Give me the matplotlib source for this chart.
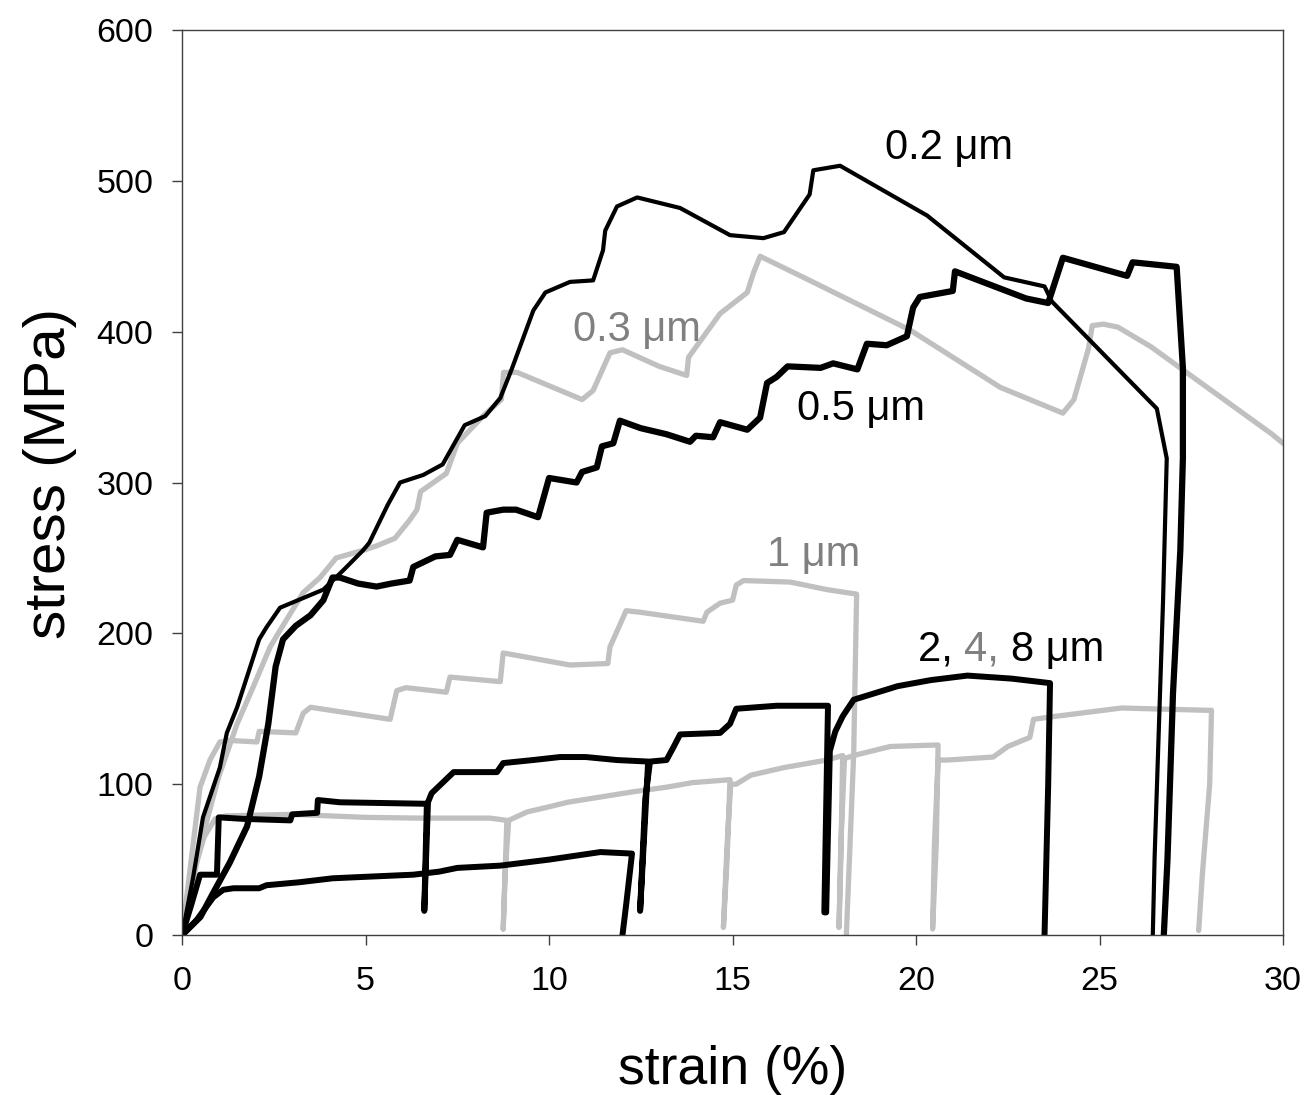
import matplotlib
matplotlib.use("Agg")
import matplotlib.pyplot as plt

plt.rcParams['font.family'] = ['Liberation Sans', 'DejaVu Sans']

# ---- data (strain %, stress MPa) ----
s02_x = [0, 0.3, 0.57, 1.03, 1.22, 1.5, 2.1, 2.3, 2.67, 3.85, 4.4, 4.93, 5.1, 5.6, 5.94, 6.57, 7.1, 7.7,
         8.26, 8.67, 8.98, 9.57, 9.9, 10.57, 11.2, 11.47, 11.53, 11.85, 12.4, 13.57, 14.93, 15.84, 16.4,
         17.1, 17.2, 17.93, 20.3, 22.4, 23.5, 23.7, 26.56, 26.83, 26.73, 26.5, 26.45]
s02_y = [0, 38, 78, 111, 134, 151, 196, 204, 217, 229, 242, 255, 260, 285, 300, 305, 312, 338,
         344, 356, 375, 414, 426, 433, 434, 454, 467, 483, 489, 482, 464, 462, 466,
         491, 507, 510, 477, 436, 430, 420, 349, 316, 222, 52, 0]

s03_x = [0, 0.5, 1.0, 1.5, 1.93, 2.4, 2.67, 3.3, 3.76, 4.2, 4.93, 5.3, 5.8, 6.2, 6.4, 6.5, 7.2, 7.5,
         8.2, 8.7, 8.76, 9.13, 10.9, 11.2, 11.66, 12.0, 13.0, 13.75, 13.8, 14.66, 15.4, 15.57, 15.75,
         17.1, 19.84, 22.3, 24.0, 24.3, 24.7, 24.8, 25.1, 25.5, 26.4, 29.7, 30.0]
s03_y = [0, 60, 105, 140, 164, 191, 202, 227, 237, 250, 255, 258, 263, 275, 282, 294, 306, 326,
         344, 355, 373, 373, 355, 361, 386, 388, 377, 371, 383, 412, 426, 439, 450,
         434, 401, 363, 346, 355, 389, 404, 405, 403, 390, 332, 326]

s05_x = [0, 0.5, 0.85, 1.3, 1.77, 2.1, 2.35, 2.55, 2.75, 3.1, 3.5, 3.85, 4.1, 4.3, 4.8, 5.3, 5.7, 6.2,
         6.3, 6.9, 7.3, 7.5, 8.2, 8.3, 8.75, 9.1, 9.7, 9.85, 10.0, 10.75, 10.9, 11.3, 11.44, 11.75,
         11.93, 12.5, 13.2, 13.84, 14.0, 14.47, 14.66, 15.4, 15.75, 15.94, 16.2, 16.5, 17.4, 17.74,
         18.4, 18.66, 19.2, 19.75, 19.92, 20.1, 21.0, 21.06, 23.0, 23.6, 24.0, 25.75, 25.9, 27.1,
         27.27, 27.27, 27.2, 27.0, 26.85, 26.75]
s05_y = [0, 12, 28, 48, 72, 105, 140, 178, 196, 205, 212, 222, 237, 237, 233, 231, 233, 235,
         244, 251, 252, 262, 257, 280, 282, 282, 277, 290, 303, 300, 307, 310, 324, 326,
         341, 336, 332, 327, 331, 330, 340, 335, 343, 366, 370, 377, 376, 379,
         375, 392, 391, 397, 416, 423, 427, 440, 422, 419, 449, 437, 446, 443,
         376, 316, 255, 160, 50, 0]

s1_x = [0, 0.25, 0.49, 0.76, 1.03, 1.3, 2.04, 2.1, 3.1, 3.3, 3.5, 5.67, 5.85, 6.1, 7.2, 7.3, 8.67,
        8.75, 10.57, 11.6, 11.66, 12.1, 12.48, 14.2, 14.3, 14.66, 15.0, 15.1, 15.3, 16.57, 17.57,
        18.38, 18.3, 18.1]
s1_y = [0, 50, 98, 116, 128, 129, 128, 135, 134, 147, 151, 143, 162, 164, 161, 171, 168,
        187, 179, 180, 191, 215, 214, 208, 214, 220, 222, 232, 235, 234, 229,
        226, 120, 0]

# 2 um (black, with unloading)
s2_x = [0, 0.25, 0.49, 0.95, 1.0, 1.67, 2.95, 3.0, 3.68, 3.7, 4.3, 6.67, 6.6, 6.7, 6.8, 7.1, 7.4,
        8.58, 8.75, 9.56, 10.3, 11.0, 11.85, 12.7, 12.48, 12.62, 12.75, 13.2, 13.4, 13.57, 14.66,
        14.93, 15.1, 16.2, 17.6, 17.5, 17.55, 17.65, 17.8, 18.0, 18.3, 19.5, 20.4, 21.4, 22.6,
        23.65, 23.6, 23.5]
s2_y = [0, 20, 40, 40, 78, 77, 76, 80, 81, 89.5, 88, 87, 16, 88, 94, 101, 108,
        108, 114, 116, 118, 118, 116, 115, 16, 90, 115, 116, 125, 133, 134,
        140, 150, 152, 152, 15, 15, 122, 135, 145, 156, 165, 169, 172, 170,
        167, 100, 0]

# 4 um (gray, with unloading)
s4_x = [0, 0.3, 0.6, 0.9, 1.2, 3.0, 5.0, 6.5, 8.4, 8.85, 8.8, 8.75, 8.8, 8.9, 9.4, 10.0, 10.5,
        11.4, 12.3, 13.2, 13.9, 14.93, 14.85, 14.75, 14.85, 14.95, 15.1, 15.5, 16.4, 17.57, 18.0,
        17.95, 17.9, 17.95, 18.05, 18.3, 19.3, 20.6, 20.55, 20.45, 20.5, 20.6, 20.85, 22.1, 22.5,
        23.1, 23.2, 23.8, 25.6, 27.9, 28.05, 28.0, 27.8, 27.7]
s4_y = [0, 40, 65, 77, 79, 80, 78, 77.5, 77.5, 76, 40, 4, 40, 76, 81.6, 85, 88,
        91.5, 95, 98, 101, 103, 50, 5, 60, 100, 100, 106, 111, 116, 119,
        50, 5, 60, 117, 119, 125, 126, 60, 4, 60, 116, 116, 118, 125,
        131, 143, 145, 150.5, 149, 149, 100, 40, 3]

# 8 um (black)
s8_x = [0, 0.4, 0.85, 1.12, 1.4, 2.1, 2.3, 3.2, 4.1, 5.0, 6.3, 7.0, 7.5, 8.67, 10.0, 11.4, 12.26,
        12.1, 12.0]
s8_y = [0, 10, 25, 30, 31, 31, 33, 35, 37.6, 38.6, 40, 42, 44.5, 46, 50, 55, 54,
        20, 0]

BLACK = '#000000'
GRAY = '#C0C0C0'
TXTGRAY = '#808080'

fig = plt.figure(figsize=(13.07, 10.95), dpi=100)
ax = fig.add_axes([0.1393, 0.1461, 0.9817 - 0.1393, 0.9726 - 0.1461])

kw = dict(solid_joinstyle='round', solid_capstyle='round')
ax.plot(s1_x, s1_y, color=GRAY, lw=3.8, **kw)
ax.plot(s4_x, s4_y, color=GRAY, lw=3.8, **kw)
ax.plot(s03_x, s03_y, color=GRAY, lw=3.8, **kw)
ax.plot(s8_x, s8_y, color=BLACK, lw=4.3, **kw)
ax.plot(s2_x, s2_y, color=BLACK, lw=4.3, **kw)
ax.plot(s05_x, s05_y, color=BLACK, lw=4.5, **kw)
ax.plot(s02_x, s02_y, color=BLACK, lw=3.0, **kw)

ax.set_xlim(0, 30)
ax.set_ylim(0, 600)
ax.set_xticks(range(0, 31, 5))
ax.set_yticks(range(0, 601, 100))
ax.tick_params(axis='both', direction='out', length=7.5, width=1, labelsize=24.5,
               color='#404040')
ax.tick_params(axis='x', pad=15)
ax.tick_params(axis='y', pad=13)
ax.tick_params(top=False, right=False)
for sp in ax.spines.values():
    sp.set_color('#404040')
    sp.set_linewidth(1)

ax.set_xlabel('strain (%)', fontsize=38.5)
ax.xaxis.label.set_va('center')
ax.xaxis.set_label_coords(0.5, -0.149)
ax.set_ylabel('stress (MPa)', fontsize=42)
ax.yaxis.label.set_va('center')
ax.yaxis.set_label_coords(-0.12, 0.51)

lab = 30
ax.text(20.9, 522, '0.2 μm', fontsize=lab, color=BLACK, ha='center', va='center')
ax.text(12.4, 401, '0.3 μm', fontsize=lab, color=TXTGRAY, ha='center', va='center')
ax.text(18.5, 349, '0.5 μm', fontsize=lab, color=BLACK, ha='center', va='center')
ax.text(17.2, 252, '1 μm', fontsize=lab, color=TXTGRAY, ha='center', va='center')

t1 = ax.text(20.05, 189, '2, ', fontsize=lab, color=BLACK, ha='left', va='center')
t2 = ax.annotate('4, ', xycoords=t1, xy=(1, 0.5), va='center', ha='left',
                 fontsize=lab, color=TXTGRAY)
t3 = ax.annotate('8 μm', xycoords=t2, xy=(1, 0.5), va='center', ha='left',
                 fontsize=lab, color=BLACK)

fig.savefig('out.png', dpi=100)
